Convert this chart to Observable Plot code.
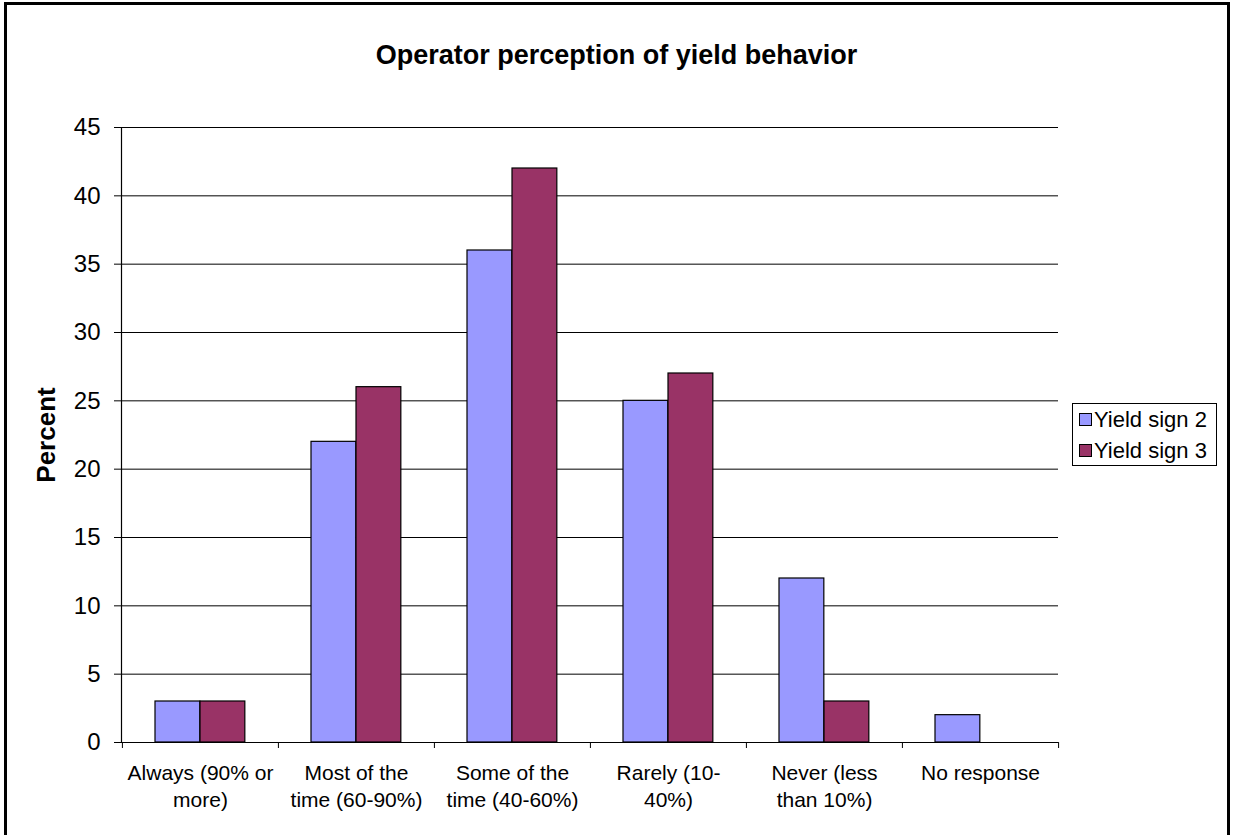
<!DOCTYPE html>
<html>
<head>
<meta charset="utf-8">
<script src="https://cdn.jsdelivr.net/npm/d3@7"></script>
<script src="https://cdn.jsdelivr.net/npm/@observablehq/plot@0.6"></script>
<style>
  html, body { margin: 0; padding: 0; background: #fff; }
  body { font-family: Arial, "Liberation Sans", sans-serif; }
  #frame { position: absolute; left: 4px; top: 2px; width: 1226px; height: 840px; border: 3px solid #000; box-sizing: border-box; }
  #title { position: absolute; left: 0; top: 0; width: 1233px; height: 100px; text-align: center; font-weight: bold; font-size: 27px; line-height: 27px; padding-top: 42px; box-sizing: border-box; color: #000; }
  #chart { position: absolute; left: 0; top: 100px; }
  #legend { position: absolute; left: 1072px; top: 403px; width: 145px; height: 63px; border: 1px solid #000; box-sizing: border-box; background: #fff; font-size: 22px; color: #000; padding: 0 0 0 6px; }
  .item { display: flex; align-items: center; height: 31px; }
  .sw { width: 13px; height: 13px; border: 1px solid #000; margin-right: 2px; box-sizing: border-box; flex: none; }
</style>
</head>
<body>
<div id="frame"></div>
<div id="title">Operator perception of yield behavior</div>
<div id="chart"></div>
<div id="legend"></div>
<script>
const categories = ["Always (90% or more)", "Most of the time (60-90%)", "Some of the time (40-60%)", "Rarely (10-40%)", "Never (less than 10%)", "No response"];
const tickLabels = ["Always (90% or\nmore)", "Most of the\ntime (60-90%)", "Some of the\ntime (40-60%)", "Rarely (10-\n40%)", "Never (less\nthan 10%)", "No response"];
const series = ["Yield sign 2", "Yield sign 3"];
const yieldSign2 = [3, 22, 36, 25, 12, 2];
const yieldSign3 = [3, 26, 42, 27, 3, 0];
const colors = ["#9999FF", "#993366"];
const yTicks = [0, 5, 10, 15, 20, 25, 30, 35, 40, 45];

const W = 1233, H = 735, mL = 121, mR = 175, mT = 27, mB = 93;
const step = (W - mL - mR) / categories.length;
const barW = 45, gapOut = 33;

const d2 = categories.map((c, i) => ({cat: c, value: yieldSign2[i]})).filter(d => d.value > 0);
const d3s = categories.map((c, i) => ({cat: c, value: yieldSign3[i]})).filter(d => d.value > 0);
const labelOf = new Map(categories.map((c, i) => [c, tickLabels[i]]));

const chart = Plot.plot({
  width: W, height: H,
  marginLeft: mL, marginRight: mR, marginTop: mT, marginBottom: mB,
  style: {fontFamily: "Arial, 'Liberation Sans', sans-serif", fontSize: "21px", color: "#000", background: "transparent"},
  x: {domain: categories, padding: 0},
  y: {domain: [0, 45]},
  marks: [
    Plot.gridY(yTicks.filter(t => t > 0), {stroke: "#000", strokeOpacity: 1, strokeWidth: 1}),
    Plot.barY(d2, {x: "cat", y: "value", fill: colors[0], stroke: "#000", strokeWidth: 1.2, insetLeft: gapOut, insetRight: step - gapOut - barW}),
    Plot.barY(d3s, {x: "cat", y: "value", fill: colors[1], stroke: "#000", strokeWidth: 1.2, insetLeft: gapOut + barW, insetRight: step - gapOut - 2 * barW}),
    Plot.ruleY([0], {stroke: "#000", strokeWidth: 1.2}),
    Plot.frame({anchor: "left", stroke: "#000", strokeWidth: 1.2}),
    Plot.axisY({ticks: yTicks, tickSize: 7, tickPadding: 14, fontSize: 24, label: null, stroke: "#000"}),
    Plot.axisX({tickSize: 0, tickPadding: 18, fontSize: 21, label: null, tickFormat: d => labelOf.get(d), lineHeight: 1.29}),
    Plot.ruleX(categories, {x: d => d, dx: -step / 2, y1: 0, y2: 0, insetBottom: -6, stroke: "#000"}),
    Plot.ruleX([categories[categories.length - 1]], {x: d => d, dx: step / 2, y1: 0, y2: 0, insetBottom: -6, stroke: "#000"}),
    Plot.text(["Percent"], {frameAnchor: "left", textAnchor: "middle", rotate: -90, dx: -75, fontWeight: "bold", fontSize: 26})
  ]
});
document.getElementById("chart").appendChild(chart);

const legend = document.getElementById("legend");
series.forEach((s, i) => {
  const it = document.createElement("div");
  it.className = "item";
  it.innerHTML = `<span class="sw" style="background:${colors[i]}"></span><span>${s}</span>`;
  legend.appendChild(it);
});
</script>
</body>
</html>
